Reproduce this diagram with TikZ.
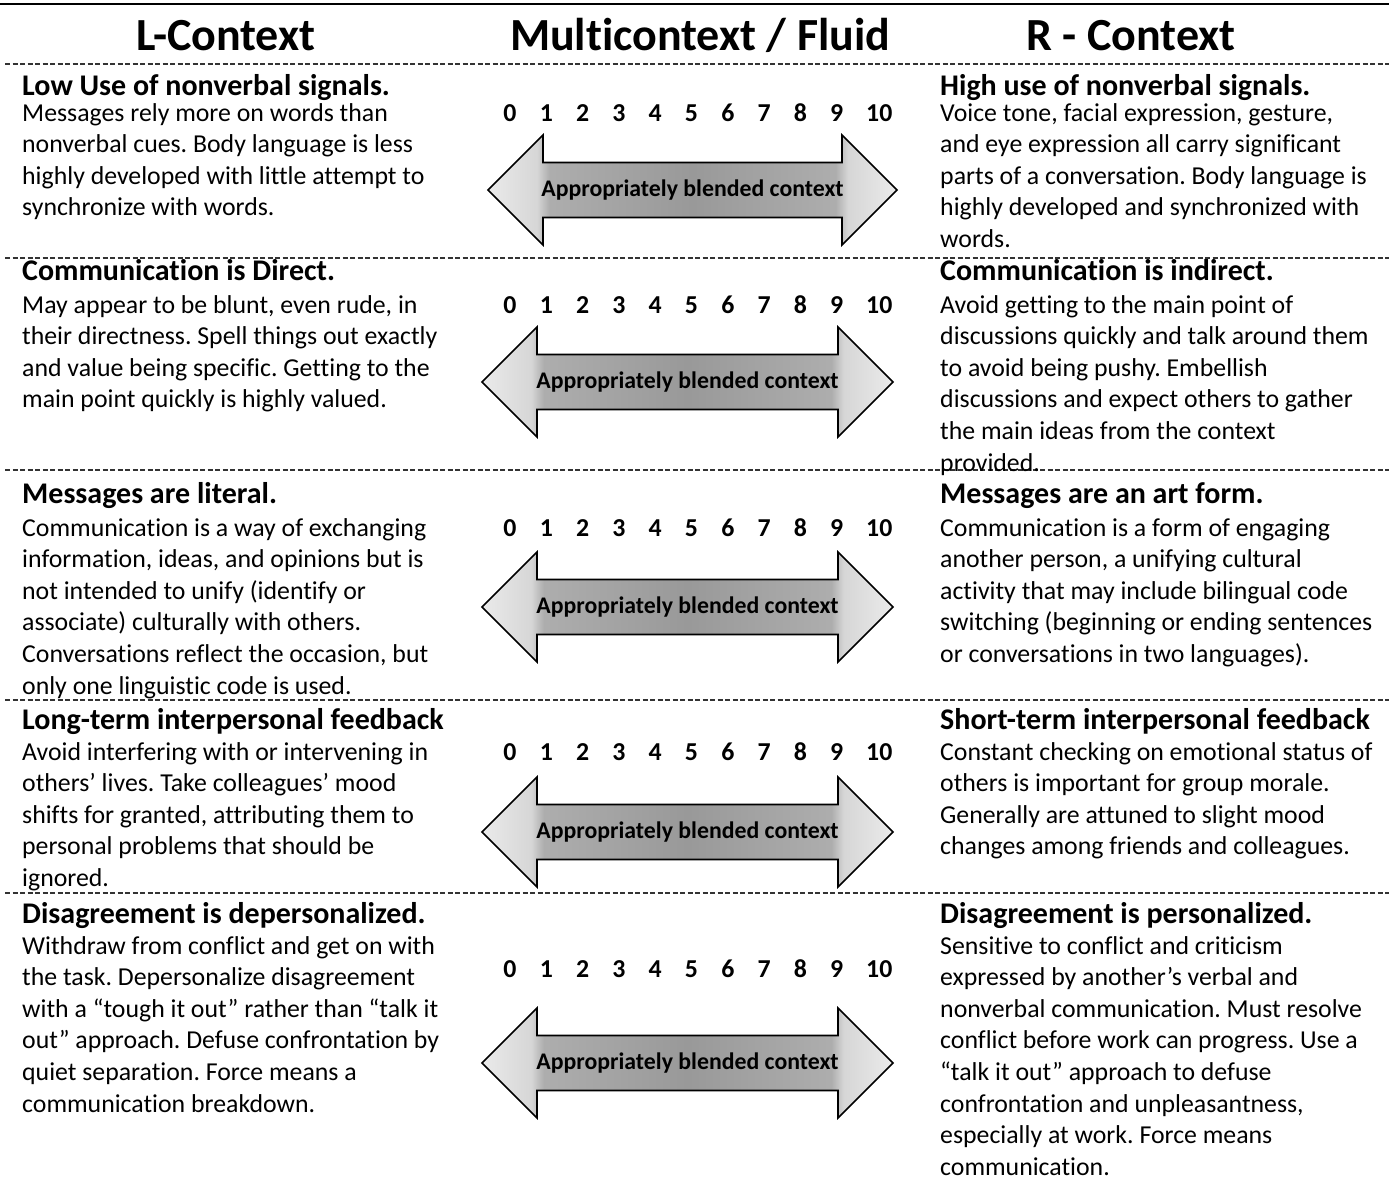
\documentclass[tikz,border=0pt]{standalone}
\usepackage{fontspec}
\setmainfont{Carlito}[Ligatures=NoCommon]
\frenchspacing
\pgfdeclarehorizontalshading{arrshade}{100bp}{color(0bp)=(black!8); color(25bp)=(black!8); color(31bp)=(black!16); color(32.5bp)=(black!32); color(50bp)=(black!40); color(67.5bp)=(black!32); color(69bp)=(black!16); color(75bp)=(black!8); color(100bp)=(black!8)}
\newcommand{\ptext}[1]{\parbox[t]{480pt}{\fontsize{25.8}{31.6}\selectfont\frenchspacing\raggedright #1}}
\newcommand{\blendarrow}[4]{%
  \shadedraw[arrowbody] (#1,#3) -- ({#1+55},{#3-55}) -- ({#1+55},{#3-27.5}) -- ({#2-55},{#3-27.5}) -- ({#2-55},{#3-55}) -- (#2,#3) -- ({#2-55},{#3+55}) -- ({#2-55},{#3+27.5}) -- ({#1+55},{#3+27.5}) -- ({#1+55},{#3+55}) -- cycle;
  \node[arrowlabel] (#4) at ({(#1+#2)/2},#3) {Appropriately blended context};
}
\newcommand{\scalerow}[2]{%
  \foreach \i in {0,...,9} {\node[num] (#1-\i) at ({510+36.3*\i},#2) {\i};}
  \node[num, anchor=base west] (#1-10) at (866,#2) {10};
}
\begin{document}
\begin{tikzpicture}[x=1pt,y=-1pt,
  title/.style={anchor=base, inner sep=0pt, font=\bfseries\fontsize{46}{54}\selectfont},
  head/.style={anchor=base west, inner sep=0pt, font=\bfseries\fontsize{30}{36}\selectfont},
  body/.style={anchor=base west, inner sep=0pt},
  num/.style={anchor=base, inner sep=0pt, font=\bfseries\fontsize{25.8}{30}\selectfont},
  arrowlabel/.style={inner sep=0pt, font=\bfseries\fontsize{23.8}{28}\selectfont},
  arrowbody/.style={shading=arrshade, draw=black, line width=1.6pt, line join=miter},
  sep/.style={dash pattern=on 5pt off 2.5pt, line width=1.1pt, black!80},
  rule/.style={line width=2pt, black}]
\useasboundingbox (0,0) rectangle (1389,1179);
\fill[white] (0,0) rectangle (1389,1179);

% top rule and titles
\draw[rule] (0,4) -- (1389,4);
\node[title] (tl) at (226,50) {L-Context};
\node[title] (tm) at (700,50) {Multicontext / Fluid};
\node[title] (tr) at (1131,50) {R - Context};

% separators
\foreach \yy in {64,258,470,700,893} {\draw[sep] (5,\yy) -- (1389,\yy);}

% ---------- Row 1
\node[head] (h1l) at (22,95) {Low Use of nonverbal signals.};
\node[body] (b1l) at (22,121) {\ptext{Messages rely more on words than\\nonverbal cues. Body language is less\\highly developed with little attempt to\\synchronize with words.}};
\node[head] (h1r) at (940,95) {High use of nonverbal signals.};
\node[body] (b1r) at (940,121) {\ptext{Voice tone, facial expression, gesture,\\and eye expression all carry significant\\parts of a conversation. Body language is\\highly developed and synchronized with\\words.}};
\scalerow{s1}{121}
\blendarrow{488}{897}{190}{a1}

% ---------- Row 2
\node[head] (h2l) at (22,280) {Communication is Direct.};
\node[body] (b2l) at (22,313) {\ptext{May appear to be blunt, even rude, in\\their directness. Spell things out exactly\\and value being specific. Getting to the\\main point quickly is highly valued.}};
\node[head] (h2r) at (940,280) {Communication is indirect.};
\node[body] (b2r) at (940,313) {\ptext{Avoid getting to the main point of\\discussions quickly and talk around them\\to avoid being pushy. Embellish\\discussions and expect others to gather\\the main ideas from the context\\provided.}};
\scalerow{s2}{313}
\blendarrow{482}{893}{382}{a2}

% ---------- Row 3
\node[head] (h3l) at (22,503) {Messages are literal.};
\node[body] (b3l) at (22,536) {\ptext{Communication is a way of exchanging\\information, ideas, and opinions but is\\not intended to unify (identify or\\associate) culturally with others.\\Conversations reflect the occasion, but\\only one linguistic code is used.}};
\node[head] (h3r) at (940,503) {Messages are an art form.};
\node[body] (b3r) at (940,536) {\ptext{Communication is a form of engaging\\another person, a unifying cultural\\activity that may include bilingual code\\switching (beginning or ending sentences\\or conversations in two languages).}};
\scalerow{s3}{536}
\blendarrow{482}{893}{607}{a3}

% ---------- Row 4
\node[head] (h4l) at (22,729) {Long-term interpersonal feedback};
\node[body] (b4l) at (22,760) {\ptext{Avoid interfering with or intervening in\\others’ lives. Take colleagues’ mood\\shifts for granted, attributing them to\\personal problems that should be\\ignored.}};
\node[head] (h4r) at (940,729) {Short-term interpersonal feedback};
\node[body] (b4r) at (940,760) {\ptext{Constant checking on emotional status of\\others is important for group morale.\\Generally are attuned to slight mood\\changes among friends and colleagues.}};
\scalerow{s4}{760}
\blendarrow{482}{893}{832}{a4}

% ---------- Row 5
\node[head] (h5l) at (22,923) {Disagreement is depersonalized.};
\node[body] (b5l) at (22,954) {\ptext{Withdraw from conflict and get on with\\the task. Depersonalize disagreement\\with a “tough it out” rather than “talk it\\out” approach. Defuse confrontation by\\quiet separation. Force means a\\communication breakdown.}};
\node[head] (h5r) at (940,923) {Disagreement is personalized.};
\node[body] (b5r) at (940,954) {\ptext{Sensitive to conflict and criticism\\expressed by another’s verbal and\\nonverbal communication. Must resolve\\conflict before work can progress. Use a\\“talk it out” approach to defuse\\confrontation and unpleasantness,\\especially at work. Force means\\communication.}};
\scalerow{s5}{977}
\blendarrow{482}{893}{1063}{a5}
\end{tikzpicture}
\end{document}
